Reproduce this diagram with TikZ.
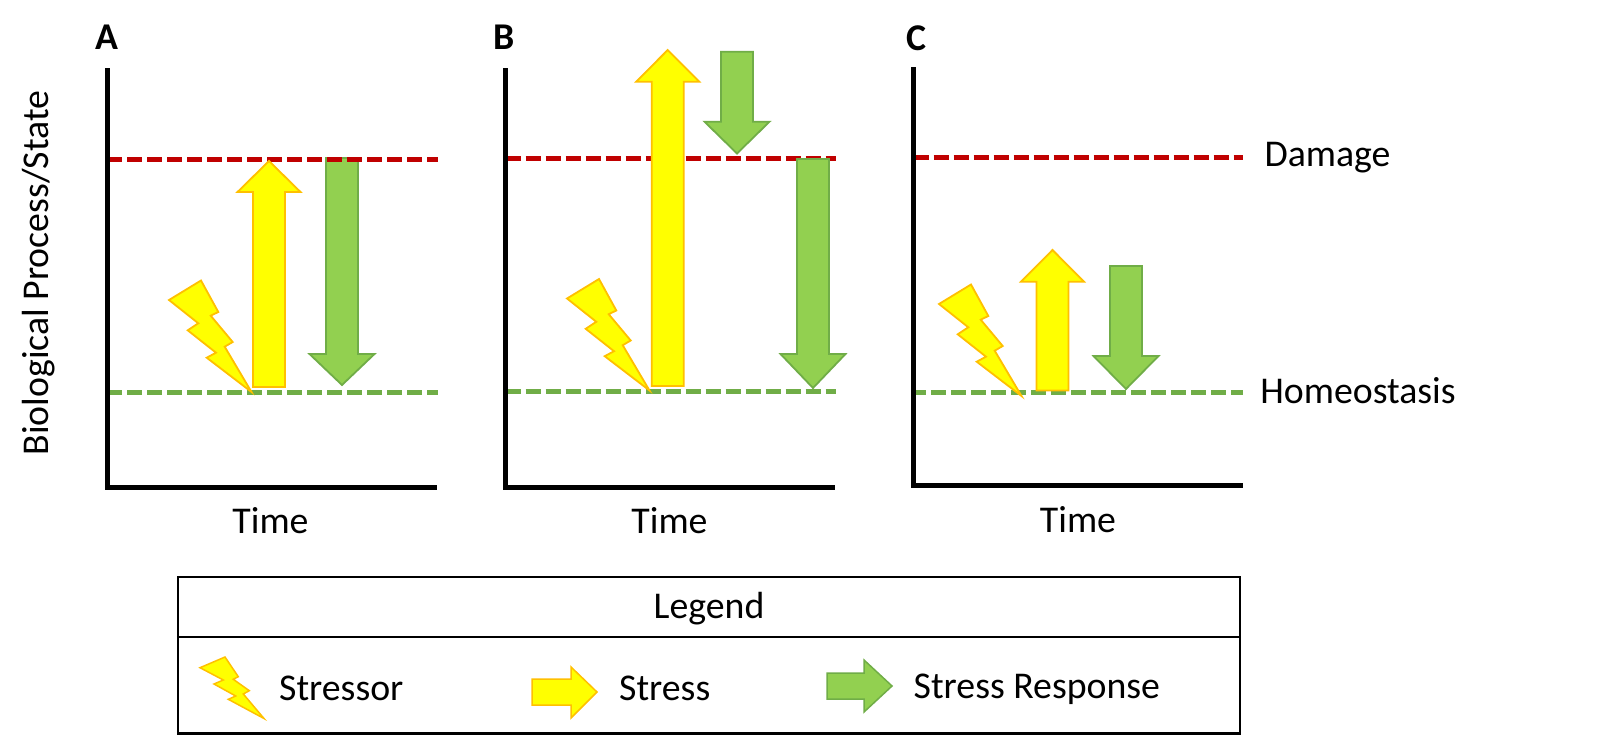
\documentclass[tikz,border=0pt]{standalone}
\usepackage{fontspec}
\setmainfont{Carlito}
\definecolor{bred}{HTML}{C00000}
\definecolor{bgreen}{HTML}{70AD47}
\definecolor{fgreen}{HTML}{92D050}
\definecolor{byellow}{HTML}{FFC000}
\definecolor{fyellow}{HTML}{FFFF00}
\tikzset{
  axisline/.style={line width=5pt,black,line cap=rect},
  damageline/.style={line width=4.6pt,bred,dash pattern=on 15pt off 5pt},
  homeoline/.style={line width=4.6pt,bgreen,dash pattern=on 15pt off 5pt},
  stressshape/.style={draw=byellow,fill=fyellow,line width=1.8pt,miter limit=10},
  respshape/.style={draw=bgreen,fill=fgreen,line width=1.8pt,miter limit=10},
  lbl/.style={inner sep=0pt,font=\fontsize{37.8}{40}\selectfont},
  panel/.style={inner sep=0pt,font=\fontsize{37.8}{40}\selectfont\bfseries},
  legendline/.style={line width=2.4pt,black}
}
% style, tip x, tip y, head half width, shaft half width, head base y, tail y
\newcommand\vertarrow[7]{\path[#1] (#2,#3) -- (#2+#4,#6) -- (#2+#5,#6) -- (#2+#5,#7) -- (#2-#5,#7) -- (#2-#5,#6) -- (#2-#4,#6) -- cycle;}
% bolt: offset x, offset y
\newcommand\bigbolt[2]{\path[stressshape,shift={(#1,#2)}] (169,300) -- (201,280.5) -- (218.3,312) -- (210.7,315.7) -- (232.7,342) -- (224.7,346.7) -- (251.5,392) -- (206.7,357.7) -- (216,352.7) -- (187.7,330.3) -- (198.3,323.3) -- cycle;}
\begin{document}
\begin{tikzpicture}[x=1pt,y=-1pt]
\useasboundingbox (0,0) rectangle (1624,735);
\fill[white] (0,0) rectangle (1624,735);

% Panel A
\coordinate (a0) at (107,71); \coordinate (a1) at (107,487); \coordinate (a2) at (434,487);
\coordinate (ar0) at (107,159.3); \coordinate (ar1) at (438,159.3);
\coordinate (ag0) at (107,392.3); \coordinate (ag1) at (438,392.3);
\vertarrow{respshape}{342}{385}{32.5}{16}{354}{158}
\draw[damageline] (ar0) -- (ar1);
\draw[homeoline] (ag0) -- (ag1);
\vertarrow{stressshape}{269}{161}{31.5}{16}{192}{387}
\bigbolt{0}{0}
\draw[axisline] (a0) -- (a1) -- (a2);
\node[panel] (pa) at (106.5,37) {A};
\node[lbl] (ta) at (270.5,521) {Time};

% Panel B
\coordinate (b0) at (505.5,71); \coordinate (b1) at (505.5,487); \coordinate (b2) at (832,487);
\coordinate (br0) at (505.5,158.4); \coordinate (br1) at (836,158.4);
\coordinate (bg0) at (505.5,391.4); \coordinate (bg1) at (836,391.4);
\draw[damageline] (br0) -- (br1);
\draw[homeoline] (bg0) -- (bg1);
\vertarrow{stressshape}{667.7}{50}{31.5}{16}{81.7}{386}
\vertarrow{respshape}{737}{153.5}{32.5}{16}{121.7}{51.7}
\vertarrow{respshape}{813}{388}{32.5}{16}{354}{159}
\bigbolt{398}{-1.5}
\draw[axisline] (b0) -- (b1) -- (b2);
\node[panel] (pb) at (504.5,37) {B};
\node[lbl] (tb) at (669.5,521) {Time};

% Panel C
\coordinate (c0) at (913.5,70); \coordinate (c1) at (913.5,485); \coordinate (c2) at (1240,485);
\coordinate (cr0) at (913.5,157.4); \coordinate (cr1) at (1243,157.4);
\coordinate (cg0) at (911,392.4); \coordinate (cg1) at (1243,392.4);
\draw[damageline] (cr0) -- (cr1);
\draw[homeoline] (cg0) -- (cg1);
\vertarrow{stressshape}{1052.5}{250}{31.5}{16}{281.7}{390.5}
\vertarrow{respshape}{1126}{389}{32.5}{16}{356}{266}
\bigbolt{770}{4}
\draw[axisline] (c0) -- (c1) -- (c2);
\node[panel] (pc) at (916,38) {C};
\node[lbl] (tc) at (1078,519.5) {Time};

% Side labels
\node[lbl] (dmg) at (1327.5,158) {Damage};
\node[lbl] (hom) at (1358,391) {Homeostasis};
\node[lbl,rotate=90] (ylab) at (39,273) {Biological Process/State};

% Legend
\node[draw=black,line width=2.4pt,minimum width=1062pt,minimum height=156.5pt,inner sep=0pt] (lgbox) at (709,655.3) {};
\coordinate (ld0) at (lgbox.west |- 0,637); \coordinate (ld1) at (lgbox.east |- 0,637);
\draw[legendline] (ld0) -- (ld1);
\node[lbl] (lgt) at (709,609) {Legend};
\path[stressshape,line width=1.5pt] (200,667.7) -- (225,657) -- (238.3,676.7) -- (233.3,679.3) -- (249.3,690.7) -- (243.3,694) -- (264,718.5) -- (228.3,699.3) -- (235.7,696) -- (214,684) -- (223.3,680) -- cycle;
\node[lbl,anchor=west] (l1) at (279,688) {Stressor};
\path[stressshape,line width=1.5pt] (597,692) -- (571,667) -- (571,679) -- (532,679) -- (532,705) -- (571,705) -- (571,718) -- cycle;
\node[lbl,anchor=west] (l2) at (619,688) {Stress};
\path[respshape,line width=1.5pt] (892,686) -- (864,660) -- (864,673) -- (827,673) -- (827,699) -- (864,699) -- (864,712) -- cycle;
\node[lbl,anchor=west] (l3) at (913.5,689) {Stress Response};
\end{tikzpicture}
\end{document}
